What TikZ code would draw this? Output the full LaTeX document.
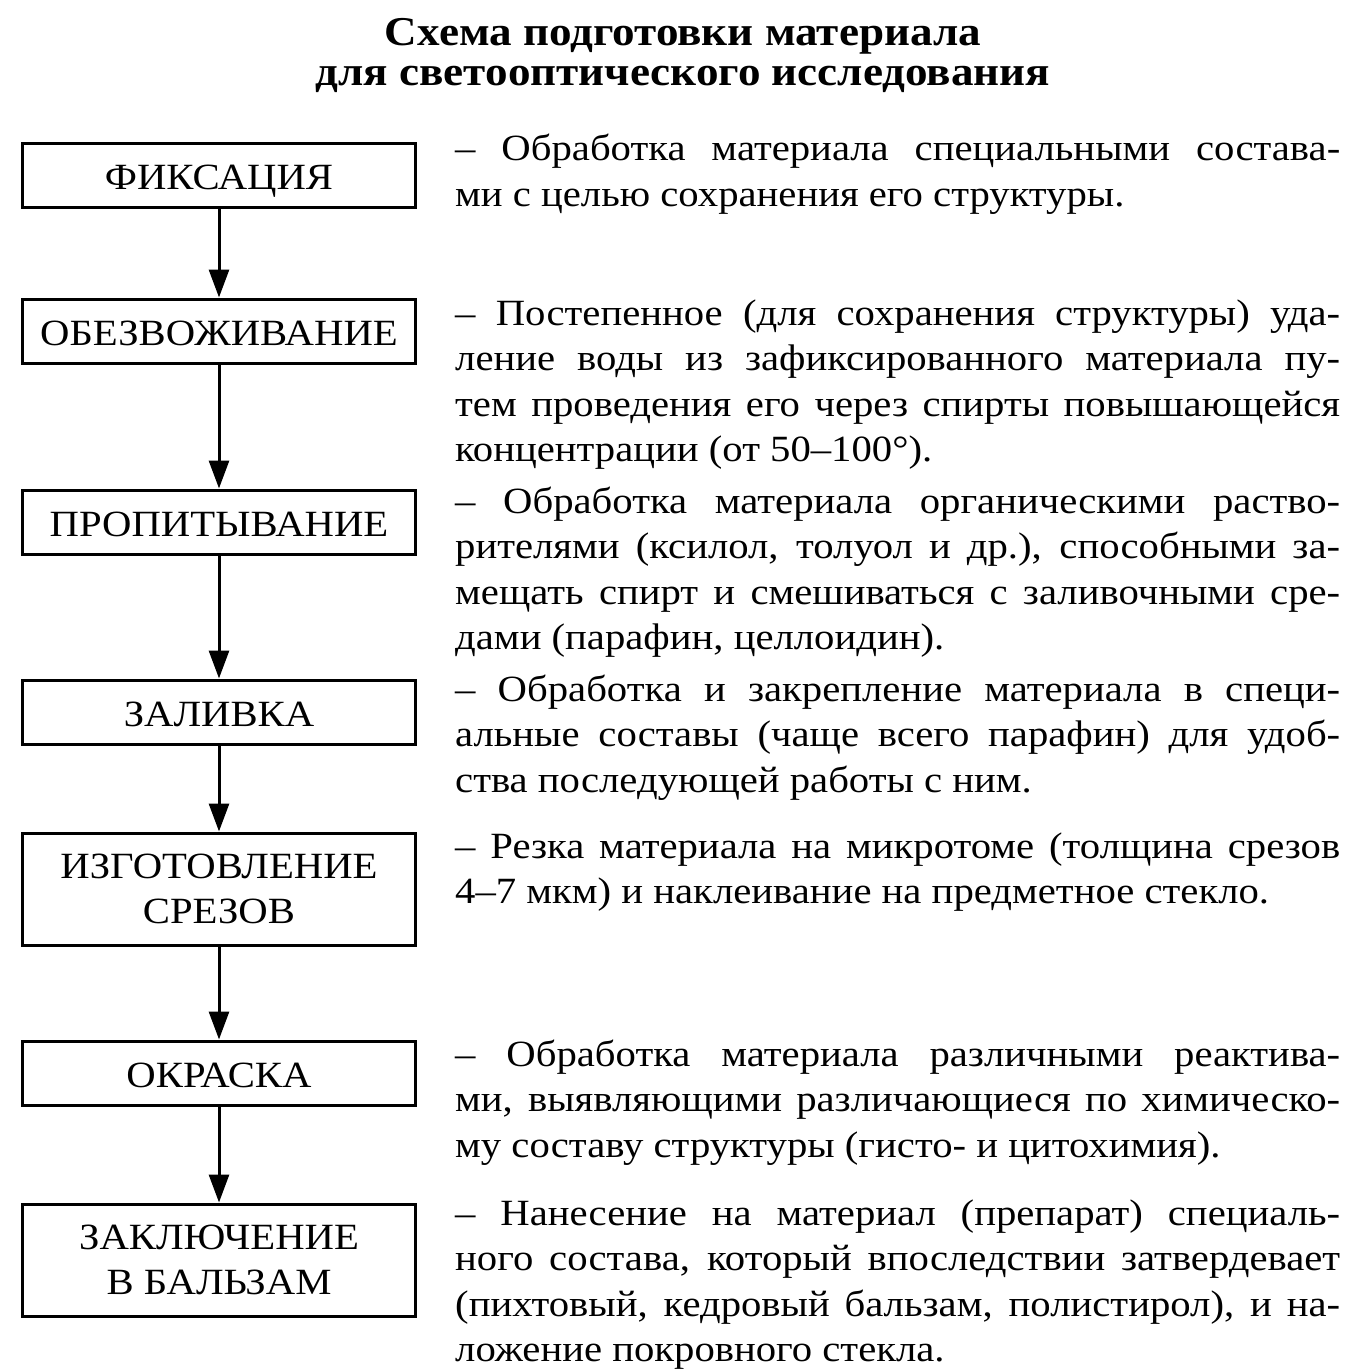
\documentclass[tikz,border=0pt]{standalone}
\usepackage{fontspec}
\setmainfont[FakeStretch=1.1]{Liberation Serif}
\usetikzlibrary{arrows.meta}
\hyphenpenalty=10000
\exhyphenpenalty=10000
\tolerance=10000
\tikzstyle{stage} = [draw, line width=3pt, minimum width=393pt, minimum height=64pt, align=center, font=\fontsize{37}{45}\selectfont]
\tikzstyle{shortstage} = [stage, text height=28pt, text depth=0pt]
\tikzstyle{note} = [anchor=base west, inner sep=0pt, text width=885pt, align=justify, font=\fontsize{37}{45.5}\selectfont]
\tikzstyle{flow} = [line width=3pt, -{Triangle[width=20pt,length=28pt]}]

\begin{document}
\begin{tikzpicture}[x=1pt,y=-1pt]
  \useasboundingbox (0,0) rectangle (1358,1372);

  \node[anchor=base, align=center, font=\bfseries\fontsize{41}{40}\selectfont] (title) at (683,86)
      {Схема подготовки материала\\для светооптического исследования};

  % stages
  \node[shortstage] (fix)  at (219,175.5) {ФИКСАЦИЯ};
  \node[shortstage] (dehy) at (219,331)   {ОБЕЗВОЖИВАНИЕ};
  \node[shortstage] (impr) at (219,522)   {ПРОПИТЫВАНИЕ};
  \node[shortstage] (emb)  at (219,712)   {ЗАЛИВКА};
  \node[stage, minimum height=112pt] (cut) at (219,889) {ИЗГОТОВЛЕНИЕ\\СРЕЗОВ};
  \node[shortstage] (stain) at (219,1073) {ОКРАСКА};
  \node[stage, minimum height=112pt] (mount) at (219,1260) {ЗАКЛЮЧЕНИЕ\\В БАЛЬЗАМ};

  \draw[flow] (fix) -- (dehy);
  \draw[flow] (dehy) -- (impr);
  \draw[flow] (impr) -- (emb);
  \draw[flow] (emb) -- (cut);
  \draw[flow] (cut) -- (stain);
  \draw[flow] (stain) -- (mount);

  % descriptions
  \node[note] (fixtext) at (455,161)
      {– Обработка материала специальными состава-\linebreak ми с целью сохранения его структуры.};
  \node[note] (dehytext) at (455,325)
      {– Постепенное (для сохранения структуры) уда-\linebreak ление воды из зафиксированного материала пу-\linebreak тем проведения его через спирты повышающейся\linebreak концентрации (от 50–100°).};
  \node[note] (imprtext) at (455,513)
      {– Обработка материала органическими раство-\linebreak рителями (ксилол, толуол и др.), способными за-\linebreak мещать спирт и смешиваться с заливочными сре-\linebreak дами (парафин, целлоидин).};
  \node[note] (embtext) at (455,701)
      {– Обработка и закрепление материала в специ-\linebreak альные составы (чаще всего парафин) для удоб-\linebreak ства последующей работы с ним.};
  \node[note] (cuttext) at (455,858)
      {– Резка материала на микротоме (толщина срезов\linebreak 4–7 мкм) и наклеивание на предметное стекло.};
  \node[note] (staintext) at (455,1066)
      {– Обработка материала различными реактива-\linebreak ми, выявляющими различающиеся по химическо-\linebreak му составу структуры (гисто- и цитохимия).};
  \node[note] (mounttext) at (455,1225)
      {– Нанесение на материал (препарат) специаль-\linebreak ного состава, который впоследствии затвердевает\linebreak (пихтовый, кедровый бальзам, полистирол), и на-\linebreak ложение покровного стекла.};
\end{tikzpicture}
\end{document}
